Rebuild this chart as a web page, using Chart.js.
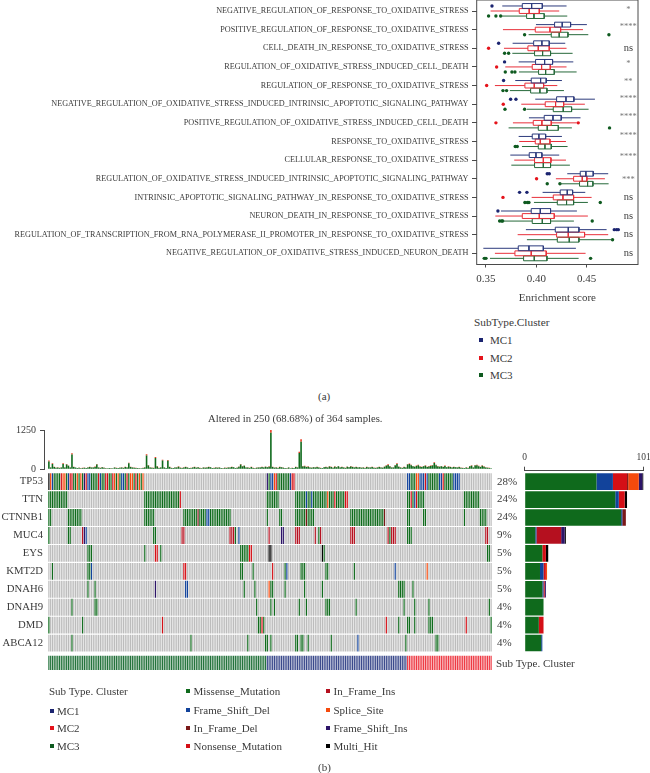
<!DOCTYPE html>
<html lang="en">
<head>
<meta charset="UTF-8">
<title>Enrichment score and oncoplot</title>
<script src="https://cdn.jsdelivr.net/npm/chart.js"></script>
<style>
  html, body { margin: 0; padding: 0; background: #fff; }
  #page { position: relative; width: 650px; height: 773px; overflow: hidden; font-family: "Liberation Serif", serif; color: #3a3a3a; }
  canvas { position: absolute; }
  .txt { position: absolute; white-space: nowrap; transform: translateY(-50%); }
  .sw { position: absolute; width: 4px; height: 4px; }
</style>
</head>
<body>
<div id="page">
  <canvas id="boxChart" width="650" height="309" style="left:0;top:-4px"></canvas>
  <canvas id="tmbChart" width="495" height="60" style="left:0;top:420px"></canvas>
  <canvas id="matrixChart" width="495" height="215" style="left:0;top:465px"></canvas>
  <canvas id="geneBars" width="153" height="225" style="left:497px;top:445px"></canvas>
</div>

<script>
// ---- panel (a) data ----
const pathways = [
  'NEGATIVE_REGULATION_OF_RESPONSE_TO_OXIDATIVE_STRESS',
  'POSITIVE_REGULATION_OF_RESPONSE_TO_OXIDATIVE_STRESS',
  'CELL_DEATH_IN_RESPONSE_TO_OXIDATIVE_STRESS',
  'REGULATION_OF_OXIDATIVE_STRESS_INDUCED_CELL_DEATH',
  'REGULATION_OF_RESPONSE_TO_OXIDATIVE_STRESS',
  'NEGATIVE_REGULATION_OF_OXIDATIVE_STRESS_INDUCED_INTRINSIC_APOPTOTIC_SIGNALING_PATHWAY',
  'POSITIVE_REGULATION_OF_OXIDATIVE_STRESS_INDUCED_CELL_DEATH',
  'RESPONSE_TO_OXIDATIVE_STRESS',
  'CELLULAR_RESPONSE_TO_OXIDATIVE_STRESS',
  'REGULATION_OF_OXIDATIVE_STRESS_INDUCED_INTRINSIC_APOPTOTIC_SIGNALING_PATHWAY',
  'INTRINSIC_APOPTOTIC_SIGNALING_PATHWAY_IN_RESPONSE_TO_OXIDATIVE_STRESS',
  'NEURON_DEATH_IN_RESPONSE_TO_OXIDATIVE_STRESS',
  'REGULATION_OF_TRANSCRIPTION_FROM_RNA_POLYMERASE_II_PROMOTER_IN_RESPONSE_TO_OXIDATIVE_STRESS',
  'NEGATIVE_REGULATION_OF_OXIDATIVE_STRESS_INDUCED_NEURON_DEATH'
];
const significance = ['*', '****', 'ns', '*', '**', '****', '****', '****', '****', '***', 'ns', 'ns', 'ns', 'ns'];
const xTicks = [0.35, 0.40, 0.45];

// each row: low whisker, q1, median, q3, high whisker
const mc1Stats = [
  [.3662,.3861,.3954,.4060,.4301], [.3997,.4182,.4258,.4341,.4503], [.3765,.3974,.4056,.4129,.4288],
  [.3825,.3993,.4083,.4162,.4368], [.3791,.3950,.4043,.4099,.4255], [.3990,.4202,.4295,.4374,.4583],
  [.3927,.4079,.4166,.4248,.4440], [.3825,.3960,.4026,.4093,.4255], [.3742,.3930,.3997,.4056,.4228],
  [.4308,.4437,.4493,.4566,.4715], [.4063,.4238,.4308,.4361,.4487], [.3649,.3950,.4040,.4142,.4404],
  [.3897,.4189,.4318,.4424,.4699], [.3474,.3821,.3927,.4070,.4394]
];
const mc2Stats = [
  [.3546,.3831,.3930,.4030,.4228], [.3669,.3990,.4136,.4242,.4464], [.3679,.3917,.4020,.4129,.4301],
  [.3692,.3960,.4053,.4139,.4301], [.3589,.3887,.3980,.4073,.4209], [.3851,.4089,.4192,.4272,.4483],
  [.3768,.3970,.4056,.4149,.4401], [.3831,.3990,.4040,.4136,.4295], [.3781,.3983,.4070,.4146,.4295],
  [.4195,.4371,.4457,.4503,.4682], [.3954,.4169,.4265,.4371,.4550], [.3593,.3861,.4030,.4179,.4513],
  [.3815,.4202,.4318,.4480,.4715], [.3589,.3788,.3950,.4099,.4490]
];
const mc3Stats = [
  [.3652,.3904,.3977,.4079,.4308], [.3924,.4149,.4228,.4315,.4517], [.3762,.3983,.4063,.4142,.4361],
  [.3828,.4023,.4093,.4179,.4401], [.3738,.3944,.4036,.4106,.4275], [.3907,.4169,.4268,.4351,.4520],
  [.3725,.4020,.4109,.4219,.4354], [.3858,.4020,.4086,.4149,.4311], [.3752,.3983,.4070,.4142,.4334],
  [.4235,.4430,.4510,.4563,.4719], [.3977,.4209,.4301,.4371,.4513], [.3672,.3960,.4060,.4142,.4374],
  [.3907,.4209,.4328,.4424,.4752], [.3540,.3874,.3980,.4106,.4421]
];
const mc1Outliers = [[.356],[],[.3626],[.3685],[.3675],[.3745,.3798],[],[],[],[.4109,.4129],[.3834,.3907],[.3619],[.4775,.4798,.4815],[]];
const mc2Outliers = [[],[],[.3526],[.3606],[.3507],[.3672],[.3599,.4417],[],[],[.4003],[.3669],[],[],[]];
const mc3Outliers = [[.3526,.3599,.3646],[.3884,.4722],[.3685,.3725],[.3692,.3758,.3788],[.3669,.3705],[.3689,.3884],[.4728],[.3791,.3811],[],[.4109,.4235],[.3887,.3911,.3927,.4636],[.3636,.3656,.3666,.4556],[.4758],[.3483,.35,.454]];

// ---- panel (b) data ----
const genes = ['TP53', 'TTN', 'CTNNB1', 'MUC4', 'EYS', 'KMT2D', 'DNAH6', 'DNAH9', 'DMD', 'ABCA12'];
const genePercent = ['28%', '24%', '24%', '9%', '5%', '5%', '5%', '4%', '4%', '4%'];

// samples per gene in the right hand bars
const missense      = [61, 77, 82,  9, 15, 13, 15, 16, 12, 14];
const frameShiftDel = [14,  3,  1,  1,  0,  3,  1,  0,  0,  1];
const nonsense      = [12,  5,  0,  0,  3,  2,  1,  0,  4,  0];
const inFrameDel    = [ 1,  0,  3,  0,  0,  0,  0,  0,  0,  0];
const inFrameIns    = [ 0,  0,  0, 21,  0,  0,  0,  0,  0,  0];
const spliceSite    = [ 9,  0,  0,  0,  0,  1,  0,  0,  0,  0];
const frameShiftIns = [ 3,  0,  0,  3,  0,  0,  1,  0,  0,  0];
const multiHit      = [ 1,  2,  0,  1,  2,  0,  0,  0,  0,  0];

// mutations per sample, missense part and everything else on top
const tmbMissense = [
  250,60,170,70,50,60,45,55,165,60,150,110,60,470,70,55,40,50,35,45,50,40,60,70,55,
  60,75,150,60,45,65,50,35,30,40,35,30,55,45,40,50,60,45,70,60,190,75,60,50,45,
  40,35,30,45,60,440,120,60,50,45,360,90,45,55,280,60,40,270,70,45,40,55,60,85,50,
  45,60,70,55,40,45,60,75,50,65,45,35,55,50,60,70,65,40,45,55,50,60,40,35,50,
  45,60,55,70,65,40,50,80,150,90,110,55,60,45,70,45,35,50,60,55,70,60,80,65,85,
  1160,70,50,60,45,75,65,50,40,35,55,30,45,40,70,60,520,880,90,100,75,85,60,50,65,
  55,70,60,45,40,65,75,60,90,70,50,85,65,95,55,70,60,45,80,65,90,70,60,75,55,
  65,50,60,45,70,55,60,75,50,45,60,70,55,50,80,110,140,90,60,55,120,170,80,60,45,
  70,60,150,165,130,95,80,105,130,85,70,95,110,75,90,105,120,200,130,90,80,95,70,105,65,
  85,70,60,75,65,55,70,50,45,40,60,45,95,110,55,120,125,100,75,110,85,60,50,45,30
];
const tmbOther = [
  26,8,20,10,6,9,5,7,25,8,20,14,7,39,10,6,5,8,4,6,7,5,9,10,7,
  8,11,20,8,6,9,7,5,4,5,5,4,8,6,5,7,8,6,10,8,22,10,8,7,6,
  5,5,4,6,8,37,15,8,7,6,32,12,6,7,27,8,5,27,9,6,5,7,8,12,7,
  6,8,10,7,5,6,8,10,7,9,6,5,7,7,8,10,9,5,6,7,7,8,5,5,7,
  6,8,7,10,9,5,7,11,20,12,14,7,8,6,10,6,5,7,8,7,10,8,11,9,12,
  90,10,7,8,6,10,9,7,5,5,7,4,6,5,10,8,40,74,12,14,10,11,8,7,9,
  7,10,8,6,5,9,10,8,12,10,7,11,9,13,7,10,8,6,11,9,12,10,8,10,7,
  9,7,8,6,10,7,8,10,7,6,8,10,7,7,11,15,18,12,8,7,16,20,11,8,6,
  10,8,20,22,17,13,11,14,17,11,10,13,15,10,12,14,16,25,17,12,11,13,10,14,9,
  11,10,8,10,9,7,10,7,6,5,8,6,13,15,7,16,17,13,10,15,11,8,7,6,4
];

// mutated samples per gene: first sample, last sample, mutation type
const tp53Runs = [
  [0,0,'K'],[1,1,'O'],[2,2,'B'],[3,6,'M'],[7,7,'N'],[8,9,'O'],[10,10,'M'],[11,11,'B'],[12,13,'N'],[14,15,'M'],[16,16,'O'],[17,17,'M'],
  [18,18,'O'],[19,19,'M'],[20,20,'P'],[21,21,'N'],[22,23,'B'],[24,27,'M'],[28,28,'N'],[29,29,'B'],[30,31,'M'],[32,33,'N'],[34,35,'M'],
  [36,36,'N'],[37,37,'O'],[38,38,'M'],[39,39,'O'],[40,40,'M'],[41,42,'B'],[43,43,'M'],[44,44,'N'],[45,45,'M'],[46,47,'O'],[48,48,'M'],
  [49,49,'N'],[50,50,'M'],[51,51,'O'],[52,52,'M'],[53,53,'O'],
  [123,123,'P'],[124,124,'M'],[125,126,'B'],[127,127,'O'],[128,128,'N'],[129,135,'M'],[136,136,'B'],[137,138,'N'],
  [202,203,'B'],[204,206,'M'],[207,208,'O'],[209,211,'B'],[212,212,'N'],[213,213,'B'],[214,219,'M'],[220,221,'B'],[222,222,'N'],[223,227,'M'],[228,231,'B']
];
const ttnRuns = [
  [0,10,'M'],[54,73,'M'],[74,74,'N'],[123,129,'M'],[139,144,'M'],[145,145,'B'],[146,147,'M'],[148,148,'B'],[149,156,'M'],[157,157,'O'],
  [158,160,'M'],[161,161,'N'],[162,166,'M'],[167,168,'N'],[202,203,'M'],[204,204,'N'],[205,205,'M'],[206,206,'B'],[207,207,'N'],[208,211,'M'],[234,242,'M']
];
const ctnnb1Runs = [
  [0,1,'M'],[11,18,'M'],[54,59,'M'],[76,83,'M'],[84,84,'D'],[85,88,'M'],[89,90,'B'],[91,102,'M'],[123,123,'M'],[130,131,'M'],
  [139,144,'M'],[145,145,'D'],[146,149,'M'],[170,188,'M'],[189,189,'D'],[202,203,'M'],[211,212,'M'],[234,234,'M'],[243,246,'M']
];
const muc4Runs = [
  [0,0,'M'],[11,12,'M'],[19,19,'I'],[20,20,'P'],[21,21,'B'],[59,60,'M'],[75,76,'I'],[102,104,'I'],[105,105,'M'],[107,107,'B'],
  [124,124,'I'],[131,132,'P'],[139,141,'I'],[150,150,'I'],[152,152,'M'],[153,153,'I'],[170,172,'I'],[191,191,'I'],[192,192,'M'],[193,195,'I'],
  [202,203,'M'],[204,204,'M'],[246,247,'I']
];
const eysRuns = [
  [22,24,'M'],[54,54,'M'],[60,60,'N'],[61,61,'N'],[63,63,'M'],[108,112,'M'],[113,114,'N'],[124,125,'K'],[154,154,'K'],[155,155,'M'],[247,248,'M']
];
const kmt2dRuns = [
  [2,2,'M'],[22,23,'M'],[24,24,'B'],[76,77,'N'],[108,109,'M'],[115,115,'M'],[126,126,'N'],[133,133,'M'],[134,134,'B'],[142,144,'M'],
  [156,157,'M'],[172,172,'M'],[195,195,'B'],[213,213,'O']
];
const dnah6Runs = [
  [22,22,'M'],[26,26,'M'],[60,60,'P'],[77,78,'B'],[110,110,'M'],[116,116,'M'],[124,124,'O'],[125,126,'M'],[133,133,'M'],[144,144,'M'],
  [154,154,'M'],[197,200,'M'],[205,205,'M']
];
const dnah9Runs = [
  [13,13,'M'],[26,27,'M'],[117,117,'M'],[125,125,'M'],[127,127,'M'],[141,141,'M'],[145,145,'M'],[156,158,'M'],[173,173,'M'],
  [200,200,'M'],[206,206,'M'],[214,214,'M'],[248,248,'M']
];
const dmdRuns = [
  [0,0,'M'],[19,19,'M'],[64,64,'N'],[118,119,'M'],[120,120,'N'],[121,121,'M'],[190,190,'N'],[197,197,'M'],[202,203,'M'],[206,206,'M'],
  [214,216,'M'],[235,235,'N'],[249,249,'M']
];
const abca12Runs = [
  [13,13,'M'],[80,80,'M'],[112,112,'M'],[122,123,'M'],[125,125,'M'],[139,140,'M'],[142,143,'M'],[146,146,'M'],[159,159,'M'],[174,174,'B'],
  [201,201,'M'],[218,219,'M']
];
const clusterSamples = [123, 79, 48];  // MC3, MC1, MC2 blocks under the matrix

// ---- look ----
const mcColors = { MC1: '#1b2470', MC2: '#e5131b', MC3: '#0e5a1f' };
const boxColors = { MC1: '#2c3a7c', MC2: '#e8303a', MC3: '#26693a' };
const stripColors = { MC1: '#3b4a8c', MC2: '#ee3a44', MC3: '#24733c' };
const mutColors = { M: '#0f6a1c', B: '#12439b', N: '#d40f16', D: '#7a1818', I: '#b5101f', O: '#f54a0d', P: '#2c1468', K: '#000000' };
const textColor = '#3a3a3a';
const axisColor = '#4a4a4a';
const serif = 'Liberation Serif';

Chart.defaults.animation = false;
Chart.defaults.responsive = false;
Chart.defaults.font.family = serif;
Chart.defaults.color = textColor;
Chart.defaults.plugins.legend.display = false;
Chart.defaults.plugins.tooltip.enabled = false;

// ---- panel (a): boxes are plain line datasets in data space ----
const boxHalf = 0.13;
function boxPath(stats, offset) {
  const pts = [];
  stats.forEach((s, row) => {
    const y = row + offset;
    pts.push({x: s[0], y}, {x: s[1], y}, {x: null, y: null});
    pts.push({x: s[3], y}, {x: s[4], y}, {x: null, y: null});
    pts.push({x: s[1], y: y - boxHalf}, {x: s[3], y: y - boxHalf}, {x: s[3], y: y + boxHalf},
             {x: s[1], y: y + boxHalf}, {x: s[1], y: y - boxHalf}, {x: null, y: null});
    pts.push({x: s[2], y: y - boxHalf}, {x: s[2], y: y + boxHalf}, {x: null, y: null});
  });
  return pts;
}
function outlierPoints(list, offset) {
  const pts = [];
  list.forEach((vals, row) => vals.forEach(v => pts.push({x: v, y: row + offset})));
  return pts;
}
function boxSet(stats, color, offset) {
  return { data: boxPath(stats, offset), showLine: true, spanGaps: false, borderColor: color, borderWidth: 1, pointRadius: 0 };
}
function outlierSet(list, color, offset) {
  return { data: outlierPoints(list, offset), backgroundColor: color, borderWidth: 0, pointRadius: 1.7 };
}

// star labels sit a little above their row in the figure
const sigNudge = [-1, -3, 0, -3, -4, -5, -6, -6, -3, 1, 0, 0, 0, 0];
const panelExtras = {
  id: 'panelExtras',
  afterDatasetsDraw(chart) {
    const {ctx, chartArea: a, scales} = chart;
    ctx.save();
    ctx.strokeStyle = axisColor;
    ctx.lineWidth = 1;
    ctx.strokeRect(a.left, a.top, a.right - a.left, a.bottom - a.top);
    ctx.textAlign = 'center';
    ctx.textBaseline = 'middle';
    significance.forEach((s, i) => {
      const stars = s !== 'ns';
      ctx.font = (stars ? '8.5px ' : '10.5px ') + '"' + serif + '"';
      ctx.fillStyle = stars ? '#777' : textColor;
      ctx.fillText(s, scales.x.getPixelForValue(0.4915), scales.y.getPixelForValue(i) + sigNudge[i]);
    });
    ctx.restore();
  }
};

new Chart(document.getElementById('boxChart'), {
  type: 'scatter',
  data: {
    datasets: [
      boxSet(mc1Stats, boxColors.MC1, -0.27),
      boxSet(mc2Stats, boxColors.MC2, 0),
      boxSet(mc3Stats, boxColors.MC3, 0.27),
      outlierSet(mc1Outliers, mcColors.MC1, -0.27),
      outlierSet(mc2Outliers, mcColors.MC2, 0),
      outlierSet(mc3Outliers, mcColors.MC3, 0.27)
    ]
  },
  options: {
    layout: { padding: { right: 12 } },
    scales: {
      x: {
        type: 'linear', min: 0.3408, max: 0.5011,
        afterBuildTicks(s) { s.ticks = xTicks.map(v => ({value: v})); },
        ticks: { font: {size: 11}, padding: 5, callback: v => v.toFixed(2), maxRotation: 0 },
        grid: { drawOnChartArea: false, tickLength: 3, color: axisColor },
        border: { display: false },
        title: { display: true, text: 'Enrichment score', font: {size: 11}, padding: {top: 7, bottom: 0} },
        afterFit(s) { s.height = 40.5; s.paddingLeft = 0; s.paddingRight = 0; }
      },
      y: {
        type: 'linear', reverse: true, min: -0.591, max: 13.6,
        afterBuildTicks(s) { s.ticks = pathways.map((_, i) => ({value: i})); },
        ticks: { font: {size: 8.2}, padding: 3.5, autoSkip: false, callback: v => pathways[v] },
        grid: { drawOnChartArea: false, tickLength: 4.7, color: axisColor },
        border: { display: false },
        afterFit(s) { s.width = 476.7; s.paddingTop = 0; s.paddingBottom = 0; }
      }
    }
  },
  plugins: [panelExtras]
});

// ---- panel (b): mutation counts per sample ----
new Chart(document.getElementById('tmbChart'), {
  type: 'bar',
  data: {
    datasets: [
      { data: tmbMissense.map((v, i) => ({x: i, y: v})), backgroundColor: mutColors.M },
      { data: tmbOther.map((v, i) => ({x: i, y: v})), backgroundColor: '#e8391f' }
    ]
  },
  options: {
    barPercentage: 0.9, categoryPercentage: 1,
    layout: { padding: { top: 10, bottom: 10.7, right: 3 } },
    scales: {
      x: { type: 'linear', offset: false, stacked: true, min: -2.75, max: 249.5, display: false },
      y: {
        stacked: true, min: 0, max: 1250,
        afterBuildTicks(s) { s.ticks = [{value: 0}, {value: 1250}]; },
        ticks: { font: {size: 10}, padding: 4, callback: v => String(v) },
        grid: { drawOnChartArea: false, tickLength: 4, color: axisColor },
        border: { color: axisColor },
        afterFit(s) { s.width = 44; s.paddingTop = 0; s.paddingBottom = 0; }
      }
    }
  }
});

// ---- panel (b): sample by gene matrix ----
const sampleLabels = tmbMissense.map((_, i) => i);
const geneRuns = [tp53Runs, ttnRuns, ctnnb1Runs, muc4Runs, eysRuns, kmt2dRuns, dnah6Runs, dnah9Runs, dmdRuns, abca12Runs];
const matrixSets = geneRuns.map((runs, row) => {
  const colors = sampleLabels.map(() => '#bcbcbc');
  runs.forEach(([from, to, type]) => {
    for (let c = from; c <= to; c++) colors[c] = mutColors[type];
  });
  return { data: sampleLabels.map(() => [row + 0.03, row + 0.97]), backgroundColor: colors, grouped: false };
});
const clusterColors = [];
[stripColors.MC3, stripColors.MC1, stripColors.MC2].forEach((c, i) => {
  for (let n = 0; n < clusterSamples[i]; n++) clusterColors.push(c);
});
matrixSets.push({ data: sampleLabels.map(() => [10.2, 11]), backgroundColor: clusterColors, grouped: false });

new Chart(document.getElementById('matrixChart'), {
  type: 'bar',
  data: { labels: sampleLabels, datasets: matrixSets },
  options: {
    barPercentage: 0.68, categoryPercentage: 1,
    layout: { padding: { top: 7.7, bottom: 10, right: 3 } },
    scales: {
      x: { display: false },
      y: {
        type: 'linear', reverse: true, min: 0, max: 11,
        afterBuildTicks(s) { s.ticks = genes.map((_, i) => ({value: i + 0.5})); },
        ticks: { font: {size: 10.7}, padding: 5, autoSkip: false, callback: v => genes[Math.floor(v)] },
        grid: { display: false, drawTicks: false },
        border: { display: false },
        afterFit(s) { s.width = 48; s.paddingTop = 0; s.paddingBottom = 0; }
      }
    }
  }
});

// ---- panel (b): samples mutated per gene ----
const geneSeries = [
  [missense, mutColors.M], [frameShiftDel, mutColors.B], [nonsense, mutColors.N], [inFrameDel, mutColors.D],
  [inFrameIns, mutColors.I], [spliceSite, mutColors.O], [frameShiftIns, mutColors.P], [multiHit, mutColors.K]
];
new Chart(document.getElementById('geneBars'), {
  type: 'bar',
  data: {
    datasets: geneSeries.map(([vals, color]) => ({
      data: vals.map((v, i) => ({x: v, y: i + 0.5})), backgroundColor: color
    }))
  },
  options: {
    indexAxis: 'y',
    barPercentage: 0.93, categoryPercentage: 1,
    layout: { padding: { right: 6.5, bottom: 18 } },
    scales: {
      x: {
        position: 'top', stacked: true, min: 0, max: 101,
        afterBuildTicks(s) { s.ticks = [{value: 0}, {value: 101}]; },
        ticks: { font: {size: 9.5}, padding: 4, maxRotation: 0 },
        grid: { drawOnChartArea: false, tickLength: 4, color: axisColor },
        border: { color: axisColor },
        afterFit(s) { s.height = 25.7; s.paddingLeft = 0; s.paddingRight = 0; }
      },
      y: {
        type: 'linear', offset: false, reverse: true, stacked: true, min: -0.11, max: 10,
        afterBuildTicks(s) { s.ticks = genePercent.map((_, i) => ({value: i + 0.5})); },
        ticks: { font: {size: 11}, padding: 8, crossAlign: 'far', autoSkip: false, callback: v => genePercent[Math.floor(v)] },
        grid: { display: false, drawTicks: false },
        border: { display: false },
        afterFit(s) { s.width = 27.7; s.paddingTop = 0; s.paddingBottom = 0; }
      }
    }
  }
});

// ---- plain text and legend keys ----
const page = document.getElementById('page');
function addText(text, x, y, size, extra) {
  const d = document.createElement('div');
  d.className = 'txt';
  d.textContent = text;
  d.style.left = x + 'px';
  d.style.top = y + 'px';
  d.style.fontSize = size + 'px';
  if (extra) d.style.letterSpacing = extra;
  page.appendChild(d);
}
function addKey(color, x, y) {
  const d = document.createElement('div');
  d.className = 'sw';
  d.style.background = color;
  d.style.left = x + 'px';
  d.style.top = (y - 2) + 'px';
  page.appendChild(d);
}

addText('SubType.Cluster', 474, 322, 11.3);
['MC1', 'MC2', 'MC3'].forEach((m, i) => {
  const y = [340, 358, 375][i];
  addKey(mcColors[m], 479, y);
  addText(m, 490, y, 11);
});
addText('(a)', 318, 396, 11);
addText('Altered in 250 (68.68%) of 364 samples.', 208, 418, 10.7);
addText('Sub Type. Cluster', 496, 663, 11);

addText('Sub Type. Cluster', 49, 691, 11);
['MC1', 'MC2', 'MC3'].forEach((m, i) => {
  const y = [711, 728, 746][i];
  addKey(mcColors[m], 50, y);
  addText(m, 57, y, 11);
});
const legendCol2 = [['Missense_Mutation', 'M'], ['Frame_Shift_Del', 'B'], ['In_Frame_Del', 'D'], ['Nonsense_Mutation', 'N']];
const legendCol3 = [['In_Frame_Ins', 'I'], ['Splice_Site', 'O'], ['Frame_Shift_Ins', 'P'], ['Multi_Hit', 'K']];
[691, 709.5, 727.5, 745.5].forEach((y, i) => {
  addKey(mutColors[legendCol2[i][1]], 185.5, y);
  addText(legendCol2[i][0], 193.5, y, 11);
  addKey(mutColors[legendCol3[i][1]], 325.5, y);
  addText(legendCol3[i][0], 333.5, y, 11);
});
addText('(b)', 318, 767, 11);
</script>
</body>
</html>
